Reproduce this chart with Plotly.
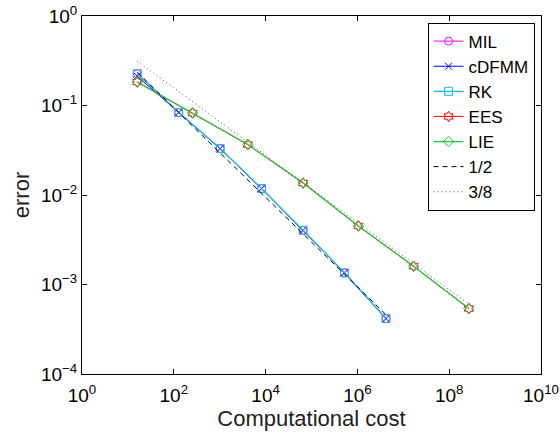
import plotly.graph_objects as go

# Computational cost (x) for the two groups of schemes
cost_fast = [16, 128, 1024, 8192, 65536, 524288, 4194304]
cost_slow = [16, 256, 4096, 65536, 1048576, 16777216, 268435456]

# Errors
err_mil = [0.227, 0.0833, 0.0330, 0.0118, 0.00403, 0.00135, 0.000416]
err_cdfmm = [0.212, 0.0833, 0.0330, 0.0118, 0.00403, 0.00135, 0.000416]
err_rk = [0.227, 0.0833, 0.0330, 0.0118, 0.00403, 0.00135, 0.000416]
err_ees = [0.183, 0.0824, 0.0366, 0.0136, 0.00451, 0.00160, 0.000538]
err_lie = [0.183, 0.0824, 0.0366, 0.0136, 0.00451, 0.00160, 0.000538]

# Reference slope lines (end points)
half_x = [16, 4194304]
half_y = [0.236, 0.00046]
three_eighths_x = [16, 268435456]
three_eighths_y = [0.312, 0.000605]

# Axis ticks
x_tickvals = [1e0, 1e2, 1e4, 1e6, 1e8, 1e10]
x_ticktext = ["10<sup>0</sup>", "10<sup>2</sup>", "10<sup>4</sup>",
              "10<sup>6</sup>", "10<sup>8</sup>", "10<sup>10</sup>"]
y_tickvals = [1e-4, 1e-3, 1e-2, 1e-1, 1e0]
y_ticktext = ["10<sup>\u22124</sup>", "10<sup>\u22123</sup>", "10<sup>\u22122</sup>",
              "10<sup>\u22121</sup>", "10<sup>0</sup>"]

FONT = "Liberation Sans, Arial, Helvetica, sans-serif"

fig = go.Figure()

series = [
    ("MIL", cost_fast, err_mil, "#ff00ff", "circle-open", 8, 1),
    ("cDFMM", cost_fast, err_cdfmm, "#0000ff", "x-thin-open", 7, 1),
    ("RK", cost_fast, err_rk, "#22b4ea", "square-open", 8, 1.4),
    ("EES", cost_slow, err_ees, "#ff0000", "hexagram-open", 8, 1),
    ("LIE", cost_slow, err_lie, "#1ec83c", "diamond-open", 8, 1.2),
]
for name, xs, ys, color, symbol, size, lw in series:
    fig.add_trace(go.Scatter(
        x=xs, y=ys, name=name, mode="lines+markers",
        line=dict(color=color, width=lw),
        marker=dict(symbol=symbol, size=size, color=color,
                    line=dict(color=color, width=1)),
    ))

fig.add_trace(go.Scatter(
    x=half_x, y=half_y, name="1/2", mode="lines",
    line=dict(color="black", width=1, dash="5px,4px"),
))
fig.add_trace(go.Scatter(
    x=three_eighths_x, y=three_eighths_y, name="3/8", mode="lines",
    line=dict(color="#555555", width=1, dash="1px,3px"),
))

axis_common = dict(
    type="log",
    showline=True, linecolor="black", linewidth=1,
    mirror="ticks", ticks="inside", ticklen=5, tickwidth=1, tickcolor="black",
    showgrid=False, zeroline=False,
    tickfont=dict(family=FONT, size=19, color="black"),
)

fig.update_xaxes(
    range=[0, 10], tickvals=x_tickvals, ticktext=x_ticktext,
    ticklabelstandoff=4,
    title=dict(text="Computational cost", font=dict(family=FONT, size=22, color="#222222"),
               standoff=4),
    **axis_common,
)
fig.update_yaxes(
    range=[-4, 0], tickvals=y_tickvals, ticktext=y_ticktext,
    title=dict(text="error", font=dict(family=FONT, size=22, color="#222222"),
               standoff=5),
    **axis_common,
)

fig.update_layout(
    width=560, height=441,
    margin=dict(l=82, r=19, t=16, b=67, autoexpand=False),
    paper_bgcolor="white", plot_bgcolor="white",
    font=dict(family=FONT, color="black"),
    legend=dict(
        x=0.986, y=0.9816, xanchor="right", yanchor="top",
        bgcolor="white", bordercolor="black", borderwidth=1,
        font=dict(family=FONT, size=17, color="black"),
        tracegroupgap=0,
    ),
    showlegend=True,
)

fig.write_html("out.html")
